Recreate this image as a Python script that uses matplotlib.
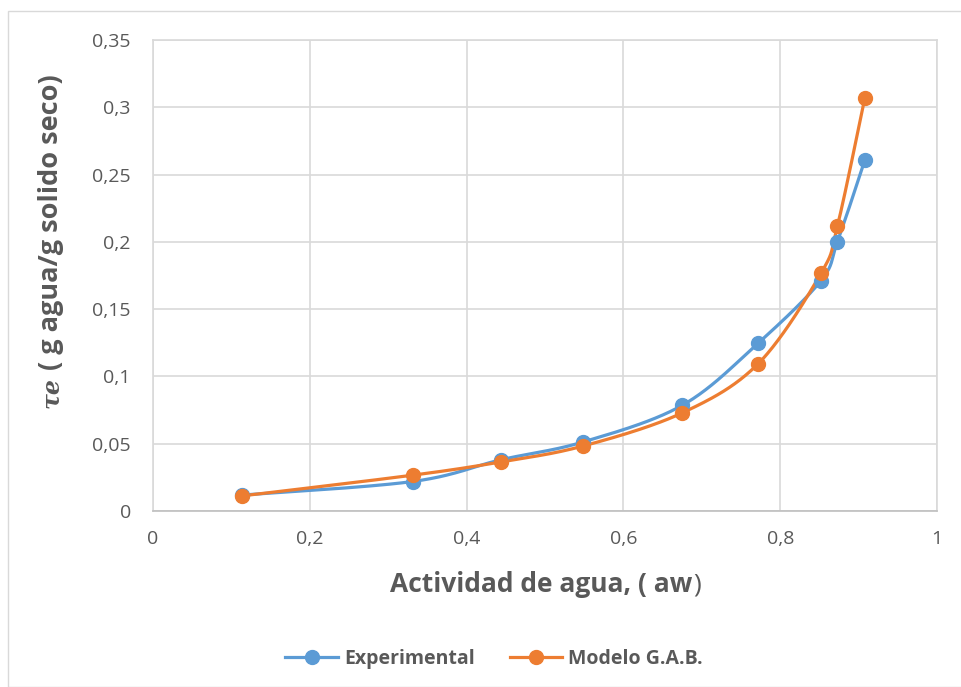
import numpy as np
import matplotlib
matplotlib.use("Agg")
import matplotlib.pyplot as plt
from matplotlib.patches import Rectangle
from matplotlib.ticker import FixedLocator, FuncFormatter

# ---------------- data ----------------
aw = [0.113, 0.331, 0.444, 0.548, 0.675, 0.772, 0.852, 0.873, 0.908]
experimental = [0.0118, 0.0219, 0.0381, 0.0512, 0.0785, 0.1248, 0.1712, 0.2000, 0.2608]
modelo_gab = [0.0112, 0.0266, 0.0365, 0.0482, 0.0729, 0.1095, 0.1766, 0.2118, 0.3071]
series_names = ["Experimental", "Modelo G.A.B."]
x_ticks = [0, 0.2, 0.4, 0.6, 0.8, 1.0]
y_ticks = [0, 0.05, 0.1, 0.15, 0.2, 0.25, 0.3, 0.35]

BLUE = "#5B9BD5"
ORANGE = "#ED7D31"
TXT = "#595959"
GRID = "#D9D9D9"
FONT = ["Open Sans", "DejaVu Sans"]


def smooth(x, y, n=40):
    """Excel-like smoothed line: cubic Bezier through points (Catmull-Rom controls)."""
    x = np.asarray(x, float)
    y = np.asarray(y, float)
    P = np.column_stack([x, y])
    out = []
    m = len(P)
    for i in range(m - 1):
        p0 = P[i - 1] if i > 0 else P[i]
        p1 = P[i]
        p2 = P[i + 1]
        p3 = P[i + 2] if i + 2 < m else P[i + 1]
        c1 = p1 + (p2 - p0) / 6.0
        c2 = p2 - (p3 - p1) / 6.0
        t = np.linspace(0, 1, n)[:, None]
        seg = ((1 - t) ** 3) * p1 + 3 * ((1 - t) ** 2) * t * c1 + 3 * (1 - t) * t ** 2 * c2 + t ** 3 * p2
        out.append(seg if i == 0 else seg[1:])
    out = np.vstack(out)
    return out[:, 0], out[:, 1]


fig = plt.figure(figsize=(9.62, 6.87), dpi=100)
fig.patch.set_facecolor("white")

# outer chart border
fig.patches.append(Rectangle((8 / 962, 0.0), 1.2, 1 - 11 / 687, transform=fig.transFigure,
                             fill=False, edgecolor="#D9D9D9", linewidth=1.0))

ax = fig.add_axes([153 / 962, 1 - 511 / 687, (937 - 153) / 962, (511 - 40) / 687])
ax.set_xlim(0, 1)
ax.set_ylim(0, 0.35)

for yv, col, name in [(experimental, BLUE, series_names[0]), (modelo_gab, ORANGE, series_names[1])]:
    sx, sy = smooth(aw, yv)
    ax.plot(sx, sy, color=col, lw=2.3, solid_capstyle="round", zorder=3)
    ax.plot(aw, yv, "o", color=col, ms=10, zorder=4)

ax.xaxis.set_major_locator(FixedLocator(x_ticks))
ax.yaxis.set_major_locator(FixedLocator(y_ticks))
fmt = FuncFormatter(lambda v, p: ("%g" % round(v, 2)).replace(".", ","))
ax.xaxis.set_major_formatter(fmt)
ax.yaxis.set_major_formatter(fmt)
ax.grid(True, color=GRID, lw=1.2)
ax.set_axisbelow(True)
for s in ax.spines.values():
    s.set_color(GRID)
    s.set_linewidth(1.2)
ax.spines["bottom"].set_color("#BFBFBF")
ax.tick_params(length=0, colors=TXT, labelsize=14)
ax.tick_params(axis="x", pad=14)
ax.tick_params(axis="y", pad=16)
for lab in ax.get_xticklabels() + ax.get_yticklabels():
    lab.set_fontfamily(FONT)

# x label: bold part + normal ")"
fig.canvas.draw()
r = fig.canvas.get_renderer()
xl = fig.text(0.0, 1 - 585 / 687, "Actividad de agua, ( aw", fontsize=19, fontweight="bold",
              color=TXT, family=FONT, ha="left", va="center")
ex = xl.get_window_extent(r)
close = fig.text(0.0, 1 - 585 / 687, ")", fontsize=19, color=TXT, family=FONT, ha="left", va="center")
ec = close.get_window_extent(r)
total = ex.width + ec.width
x0 = 545 - total / 2
xl.set_x(x0 / 962)
close.set_x((x0 + ex.width + 1) / 962)

# y label: bold italic tau e + bold remainder
t1 = fig.text(51 / 962, 0.0, "τe", fontsize=17, fontweight="bold", style="italic",
              color=TXT, family=["DejaVu Serif"], rotation=90, ha="center", va="bottom")
t2 = fig.text(51 / 962, 0.0, " ( g agua/g solido seco)", fontsize=19.5, fontweight="bold",
              color=TXT, family=FONT, rotation=90, ha="center", va="bottom")
e1 = t1.get_window_extent(r)
e2 = t2.get_window_extent(r)
tot = e1.height + e2.height
yc_px = 687 - 241  # center in display coords (from bottom)
y0 = yc_px - tot / 2
t1.set_y(y0 / 687)
t2.set_y((y0 + e1.height) / 687)

# legend
handles = [plt.Line2D([], [], color=BLUE, lw=2.3, marker="o", ms=10),
           plt.Line2D([], [], color=ORANGE, lw=2.3, marker="o", ms=10)]
leg = fig.legend(handles, series_names, loc="center", bbox_to_anchor=(494 / 962, 1 - 659 / 687),
                 ncol=2, frameon=False, handlelength=2.7, handletextpad=0.3, columnspacing=1.8,
                 prop={"family": FONT, "weight": "bold", "size": 14})
for t in leg.get_texts():
    t.set_color(TXT)

fig.savefig("out.png", dpi=100, facecolor="white")
